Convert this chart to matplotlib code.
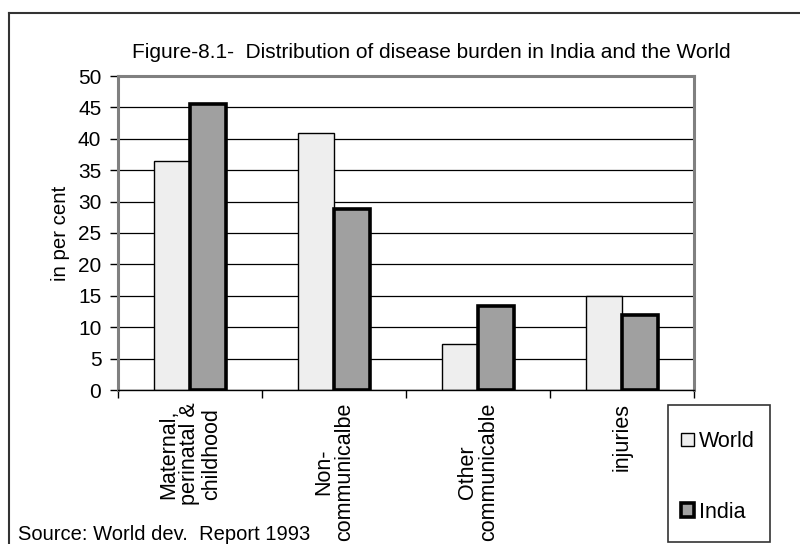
import matplotlib
matplotlib.use("Agg")
import matplotlib.pyplot as plt
import numpy as np
from matplotlib.patches import Rectangle, Patch
from matplotlib.lines import Line2D

plt.rcParams['font.family'] = ['Liberation Sans', 'DejaVu Sans']

categories = ["Maternal,\nperinatal &\nchildhood", "Non-\ncommunicalbe",
              "Other\ncommunicable", "injuries"]
world = [36.5, 40.9, 7.4, 15.0]
india = [45.5, 28.9, 13.3, 11.9]
series_names = ["World", "India"]
yticks = [0, 5, 10, 15, 20, 25, 30, 35, 40, 45, 50]

FS = 15
W, H = 800, 544
fig = plt.figure(figsize=(8, 5.44), dpi=100)

def fx(px):
    return px / W

def fy(py):
    return 1 - py / H

# plot area
left, right, top, bottom = 118, 694, 76, 390
ax = fig.add_axes([fx(left), fy(bottom), fx(right - left), (bottom - top) / H])

x = np.arange(len(categories))
bw = 0.25
ax.bar(x - bw / 2, world, bw, color="#eeeeee", edgecolor="black", linewidth=1.0, zorder=3)
ax.bar(x + bw / 2, india, bw, color="#a0a0a0", edgecolor="black", linewidth=2.6, zorder=3)

ax.set_xlim(-0.5, len(categories) - 0.5)
ax.set_ylim(0, 50)
ax.set_yticks(yticks)
ax.set_yticklabels([str(v) for v in yticks], fontsize=FS)
ax.tick_params(axis="y", length=6, width=1, color="black", pad=6)
ax.yaxis.grid(True, color="black", linewidth=0.9, zorder=0)
ax.set_axisbelow(True)

# category boundary ticks on the x axis
ax.set_xticks(np.arange(-0.5, len(categories) + 0.5, 1.0))
ax.set_xticklabels([])
ax.tick_params(axis="x", length=6, width=1, color="black", direction="out")

for sp in ["left", "right", "top"]:
    ax.spines[sp].set_color("#808080")
    ax.spines[sp].set_linewidth(2.2)
ax.spines["bottom"].set_color("black")
ax.spines["bottom"].set_linewidth(1.0)
ax.spines["bottom"].set_zorder(4)

for i, lab in enumerate(categories):
    ax.text(i, -2.0, lab, rotation=90, ha="center", va="top",
            multialignment="center", fontsize=FS + 0.5, linespacing=1.02)

ax.set_ylabel("in per cent", fontsize=FS - 0.3, labelpad=6)

fig.text(fx(431), fy(52), "Figure-8.1-  Distribution of disease burden in India and the World",
         ha="center", va="center", fontsize=FS)

fig.text(fx(18), fy(540), "Source: World dev.  Report 1993", ha="left", va="baseline",
         fontsize=FS - 0.5)

# outer frame (top and left edges)
fig.add_artist(Line2D([fx(9), fx(9)], [fy(13), 0], transform=fig.transFigure,
                      color="#333333", linewidth=1.5))
fig.add_artist(Line2D([fx(9), 1], [fy(13), fy(13)], transform=fig.transFigure,
                      color="#333333", linewidth=1.5))

# legend box
fig.add_artist(Rectangle((fx(668), fy(542)), fx(770 - 668), (542 - 405) / H,
                         transform=fig.transFigure, facecolor="white",
                         edgecolor="#333333", linewidth=1.2))
handles = [Patch(facecolor="#eeeeee", edgecolor="black", linewidth=1.0),
           Patch(facecolor="#a0a0a0", edgecolor="black", linewidth=2.6)]
fig.legend(handles, series_names, loc="upper left",
           bbox_to_anchor=(fx(681), fy(431)), frameon=False, fontsize=FS + 0.5,
           handlelength=0.6, handleheight=0.6, handletextpad=0.25,
           labelspacing=2.3, borderpad=0, borderaxespad=0)

fig.savefig("out.png", dpi=100)
